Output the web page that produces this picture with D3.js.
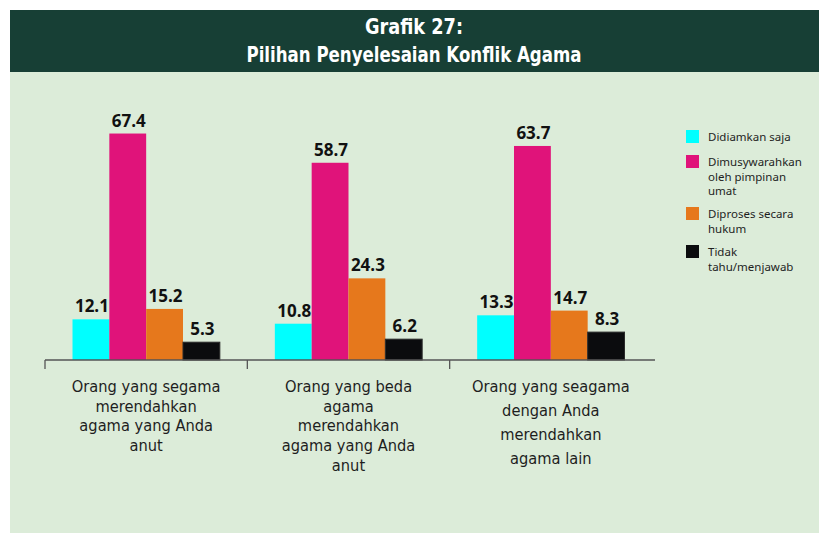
<!DOCTYPE html>
<html>
<head>
<meta charset="utf-8">
<script src="https://cdn.jsdelivr.net/npm/d3@7"></script>
<style>
  html, body { margin: 0; padding: 0; background: #ffffff; }
  svg { display: block; }
</style>
</head>
<body>
<svg id="chart" width="819" height="534"></svg>
<script>
const titleLines = ["Grafik 27:", "Pilihan Penyelesaian Konflik Agama"];
const categories = [
  ["Orang yang segama", "merendahkan", "agama yang Anda", "anut"],
  ["Orang yang beda", "agama", "merendahkan", "agama yang Anda", "anut"],
  ["Orang yang seagama", "dengan Anda", "merendahkan", "agama lain"]
];
const seriesNames = ["Didiamkan saja", "Dimusywarahkan oleh pimpinan umat", "Diproses secara hukum", "Tidak tahu/menjawab"];
const legendLines = [["Didiamkan saja"], ["Dimusywarahkan", "oleh pimpinan", "umat"], ["Diproses secara", "hukum"], ["Tidak", "tahu/menjawab"]];
const didiamkan = [12.1, 10.8, 13.3];
const dimusyawarahkan = [67.4, 58.7, 63.7];
const diproses = [15.2, 24.3, 14.7];
const tidakTahu = [5.3, 6.2, 8.3];
const colors = ["#00ffff", "#e0137a", "#e6781c", "#0b0c0e"];

const series = [didiamkan, dimusyawarahkan, diproses, tidakTahu];
const svg = d3.select("#chart");

// background panels
svg.append("rect").attr("x", 10).attr("y", 72).attr("width", 809).attr("height", 461).attr("fill", "#dcecd9");
svg.append("rect").attr("x", 10).attr("y", 10).attr("width", 809).attr("height", 62).attr("fill", "#173f35");

const titleW = [98, 335];
svg.selectAll("text.title").data(titleLines).join("text")
  .attr("class", "title")
  .attr("x", 414).attr("y", (d, i) => 34 + i * 28)
  .attr("text-anchor", "middle")
  .attr("fill", "#ffffff")
  .attr("font-family", "'DejaVu Sans Condensed', Roboto, sans-serif")
  .attr("font-weight", "bold")
  .attr("font-size", 21)
  .attr("textLength", (d, i) => titleW[i])
  .attr("lengthAdjust", "spacingAndGlyphs")
  .text(d => d);

const idx = d3.range(categories.length);
const x0 = d3.scaleBand().domain(idx).range([45, 652]).paddingInner(0).paddingOuter(0);
const x1 = d3.scaleBand().domain(d3.range(series.length)).range([27.5, x0.bandwidth() - 27.5]).padding(0);
const y = d3.scaleLinear().domain([0, 70]).range([360, 360 - 70 * 3.36]);

const groups = svg.selectAll("g.grp").data(idx).join("g")
  .attr("class", "grp")
  .attr("transform", d => `translate(${x0(d)},0)`);

groups.selectAll("rect.bar").data(g => series.map((s, si) => ({si, v: s[g]}))).join("rect")
  .attr("class", "bar")
  .attr("x", d => x1(d.si))
  .attr("width", x1.bandwidth())
  .attr("y", d => y(d.v))
  .attr("height", d => y(0) - y(d.v))
  .attr("fill", d => colors[d.si])
  .attr("stroke", d => d.si === 3 ? "#2a2a2a" : "none")
  .attr("stroke-width", 1);

groups.selectAll("text.val").data(g => series.map((s, si) => ({si, v: s[g]}))).join("text")
  .attr("class", "val")
  .attr("x", d => x1(d.si) + x1.bandwidth() / 2 + 1)
  .attr("y", d => y(d.v) - 7)
  .attr("text-anchor", "middle")
  .attr("font-family", "'Open Sans', sans-serif")
  .attr("font-weight", "bold")
  .attr("font-size", 17)
  .attr("fill", "#111")
  .text(d => d.v.toFixed(1));

// axis
const axis = d3.axisBottom(x0).tickSize(0).tickFormat("");
const ax = svg.append("g").attr("transform", "translate(0,360)").call(axis);
ax.select(".domain").attr("stroke", "#555").attr("stroke-width", 1.5).attr("d", "M45,0H655");
ax.selectAll(".tick").remove();
ax.selectAll("line.sep").data(idx).join("line")
  .attr("class", "sep")
  .attr("x1", d => x0(d)).attr("x2", d => x0(d))
  .attr("y1", 0).attr("y2", 9)
  .attr("stroke", "#555").attr("stroke-width", 1.3);

// category labels
const lineH = [19.5, 19.7, 24];
groups.each(function(g) {
  d3.select(this).selectAll("text.cat").data(categories[g]).join("text")
    .attr("class", "cat")
    .attr("x", x0.bandwidth() / 2)
    .attr("y", (d, i) => 392 + i * lineH[g])
    .attr("text-anchor", "middle")
    .attr("font-family", "'DejaVu Sans Condensed', 'Noto Sans', sans-serif")
    .attr("font-size", 16.3)
    .attr("fill", "#1e1e1e")
    .text(d => d);
});

// legend
const legTop = [130, 155, 207, 245];
const leg = svg.selectAll("g.leg").data(legendLines).join("g")
  .attr("class", "leg")
  .attr("transform", (d, i) => `translate(686,${legTop[i]})`);
leg.append("rect").attr("width", 13).attr("height", 13).attr("fill", (d, i) => colors[i]);
leg.selectAll("text").data(d => d).join("text")
  .attr("x", 22)
  .attr("y", (d, i) => 11 + i * 14.5)
  .attr("font-family", "'Noto Sans', sans-serif")
  .attr("font-size", 11.5)
  .attr("fill", "#1e1e1e")
  .text(d => d);
</script>
</body>
</html>
